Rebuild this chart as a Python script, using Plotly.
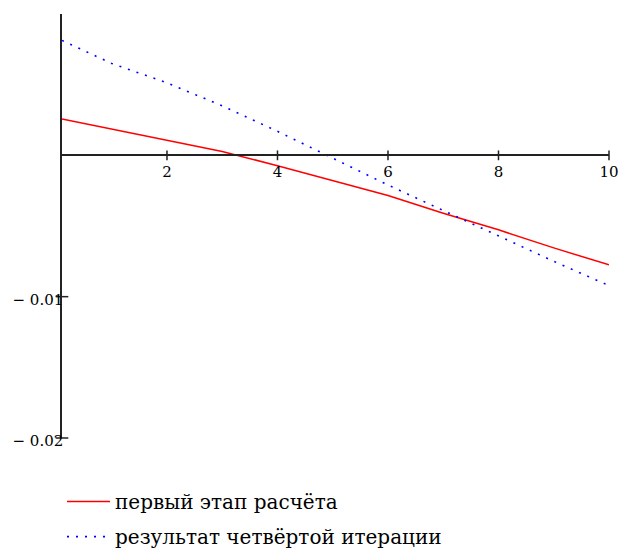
import plotly.graph_objects as go

# Data
x_vals = [0.1, 1, 2, 3, 4, 5, 6, 7, 8, 9, 10]
first_stage = [0.00258, 0.00187, 0.00111, 0.00027, -0.00073, -0.0018, -0.00284, -0.0041, -0.00527, -0.00655, -0.00775]
fourth_iter = [0.00813, 0.0065, 0.00513, 0.0035, 0.0017, -0.00018, -0.0021, -0.0039, -0.0057, -0.0075, -0.00922]
x_ticks = [2, 4, 6, 8, 10]
x_tick_text = ["2", "4", "6", "8", "10"]
y_ticks = [-0.01, -0.02]
y_tick_text = ["\u2212 0.01", "\u2212 0.02"]
names = ["первый этап расчёта", "результат четвёртой итерации"]

X_RANGE = [0.1, 10]
Y_RANGE = [-0.02, 0.01]
FONT = "DejaVu Serif"
AXC = "#222222"

fig = go.Figure()
fig.add_trace(go.Scatter(x=x_vals, y=first_stage, mode="lines", name=names[0],
                         legendgroup="a",
                         line=dict(color="#FF0000", width=1.5)))
fig.add_trace(go.Scatter(x=x_vals, y=fourth_iter, mode="lines", name=names[1],
                         legendgroup="b",
                         line=dict(color="#0000FF", width=1.6, dash="2px,7px")))

# crossing tick marks on axes
fig.add_trace(go.Scatter(x=x_ticks, y=[0] * len(x_ticks), mode="markers",
                         marker=dict(symbol="line-ns", size=7, line=dict(color=AXC, width=1.5)),
                         showlegend=False, hoverinfo="skip", cliponaxis=False))
fig.add_trace(go.Scatter(x=[X_RANGE[0]] * len(y_ticks), y=y_ticks, mode="markers",
                         marker=dict(symbol="line-ew", size=9, line=dict(color=AXC, width=1.5)),
                         showlegend=False, hoverinfo="skip", cliponaxis=False))

y_frac = (0 - Y_RANGE[0]) / (Y_RANGE[1] - Y_RANGE[0])

fig.update_layout(
    width=622, height=548,
    margin=dict(l=62, r=13, t=14, b=110, autoexpand=False),
    paper_bgcolor="white", plot_bgcolor="white",
    font=dict(family=FONT, size=15, color="black"),
    showlegend=True,
    legend=dict(x=0.0, xanchor="left", y=-0.104, yanchor="top",
                font=dict(family=FONT, size=20, color="black"),
                itemwidth=43,
                tracegroupgap=6, bgcolor="rgba(0,0,0,0)"),
    xaxis=dict(range=X_RANGE, anchor="free", position=y_frac,
               showline=True, linecolor=AXC, linewidth=1.5,
               showgrid=False, zeroline=False, ticks="",
               ticklabelstandoff=3,
               tickvals=x_ticks, ticktext=x_tick_text,
               tickfont=dict(family=FONT, size=15, color="black")),
    yaxis=dict(range=Y_RANGE, showline=True, linecolor=AXC, linewidth=1.5,
               showgrid=False, zeroline=False, ticks="",
               ticklabelstandoff=-6, ticklabelshift=3,
               tickvals=y_ticks, ticktext=y_tick_text,
               tickfont=dict(family=FONT, size=15, color="black")),
)

fig.write_html("out.html")
